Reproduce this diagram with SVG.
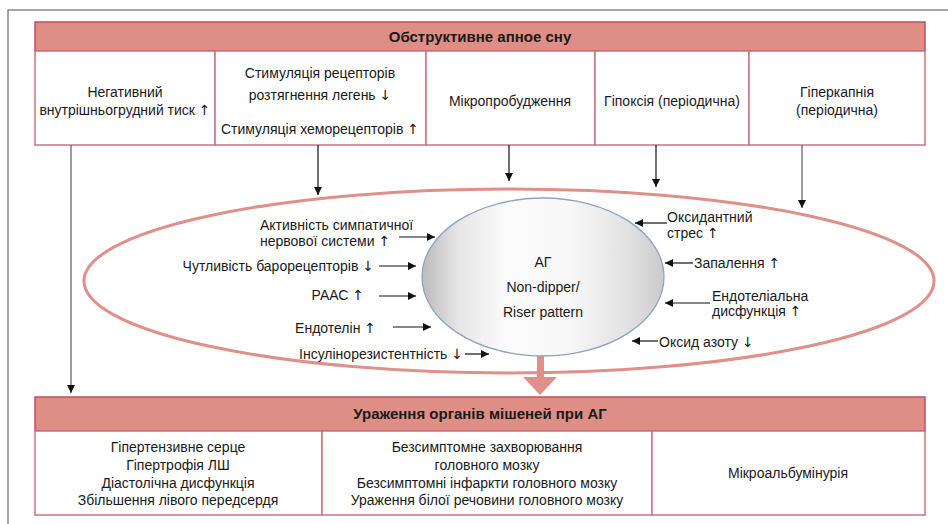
<svg xmlns="http://www.w3.org/2000/svg" width="948" height="524" viewBox="0 0 948 524">
<defs>
<style>
text{font-family:"Liberation Sans","DejaVu Sans",sans-serif;font-size:14px;fill:#1a1a1a;text-anchor:middle}
.b{font-weight:bold;font-size:15px}
.l{text-anchor:start}
.e{text-anchor:end}
.ar{font-family:"DejaVu Sans",sans-serif;font-size:14px}
.hdr{fill:#de8e84;stroke:#c0505a;stroke-width:1.5}
.cell{fill:#fff;stroke:#c9747c;stroke-width:1.5}
.ln{stroke:#111;stroke-width:1.2;fill:none}
.gl{stroke:#666;stroke-width:1.3;fill:none}
</style>
<marker id="ah" viewBox="0 0 10 10" refX="10" refY="5" markerWidth="8" markerHeight="8" markerUnits="userSpaceOnUse" orient="auto">
<path d="M0,0 L10,5 L0,10 z" fill="#111"/>
</marker>
<linearGradient id="eg" x1="0" y1="0" x2="1" y2="0">
<stop offset="0" stop-color="#bababa"/>
<stop offset="0.15" stop-color="#e6e6e6"/>
<stop offset="0.35" stop-color="#fbfbfb"/>
<stop offset="0.6" stop-color="#f8f8f8"/>
<stop offset="0.85" stop-color="#e2e2e2"/>
<stop offset="1" stop-color="#cacaca"/>
</linearGradient>
</defs>
<rect x="8" y="10" width="950" height="530" fill="#fff" stroke="#777" stroke-width="1.3"/>

<g id="top-header">
<rect class="hdr" x="35" y="22" width="890" height="29"/>
<text class="b" x="480" y="42">Обструктивне апное сну</text>
</g>
<g id="top-cells">
<rect class="cell" x="35" y="51" width="180" height="94"/>
<rect class="cell" x="215" y="51" width="211" height="94"/>
<rect class="cell" x="426" y="51" width="169" height="94"/>
<rect class="cell" x="595" y="51" width="154" height="94"/>
<rect class="cell" x="749" y="51" width="176" height="94"/>
</g>
<g id="n1"><text x="125" y="97">Негативний</text><text x="125" y="115">внутрішньогрудний тиск <tspan class="ar">↑</tspan></text></g>
<g id="n2"><text x="320" y="78">Стимуляція рецепторів</text><text x="320" y="100">розтягнення легень <tspan class="ar">↓</tspan></text><text x="320" y="134">Стимуляція хеморецепторів <tspan class="ar">↑</tspan></text></g>
<g id="n3"><text x="510" y="106">Мікропробудження</text></g>
<g id="n4"><text x="672" y="106">Гіпоксія (періодична)</text></g>
<g id="n5"><text x="837" y="97">Гіперкапнія</text><text x="837" y="115">(періодична)</text></g>

<g id="outer-ellipse">
<ellipse cx="509" cy="281" rx="425" ry="92" fill="none" stroke="#e0908a" stroke-width="3"/>
</g>

<g id="connectors">
<line class="gl" x1="71" y1="145" x2="71" y2="393" marker-end="url(#ah)"/>
<line class="ln" x1="318" y1="145" x2="318" y2="195" marker-end="url(#ah)"/>
<line class="ln" x1="509" y1="145" x2="509" y2="181" marker-end="url(#ah)"/>
<line class="ln" x1="656" y1="145" x2="656" y2="187" marker-end="url(#ah)"/>
<line class="gl" x1="802" y1="145" x2="802" y2="208" marker-end="url(#ah)"/>
<line class="ln" x1="399" y1="237" x2="435" y2="237" marker-end="url(#ah)"/>
<line class="ln" x1="379" y1="266" x2="416" y2="266" marker-end="url(#ah)"/>
<line class="ln" x1="379" y1="296" x2="416" y2="296" marker-end="url(#ah)"/>
<line class="ln" x1="393" y1="327" x2="431" y2="327" marker-end="url(#ah)"/>
<line class="ln" x1="465" y1="354" x2="489" y2="354" marker-end="url(#ah)"/>
<line class="ln" x1="667" y1="223" x2="635" y2="223" marker-end="url(#ah)"/>
<line class="ln" x1="693" y1="263" x2="665" y2="263" marker-end="url(#ah)"/>
<line class="ln" x1="710" y1="303" x2="665" y2="303" marker-end="url(#ah)"/>
<line class="ln" x1="658" y1="341" x2="632" y2="341" marker-end="url(#ah)"/>
<rect x="537" y="354" width="7" height="24" fill="#e0908a"/>
<path d="M523,377 L557,377 L540,395 z" fill="#e0908a"/>
</g>

<g id="center">
<ellipse cx="543" cy="277" rx="121" ry="79" fill="url(#eg)" stroke="#8fa4ba" stroke-width="1.3"/>
<text x="543" y="267">АГ</text>
<text x="543" y="292">Non-dipper/</text>
<text x="543" y="317">Riser pattern</text>
</g>

<g id="left-factors">
<text class="l" x="260" y="230">Активність симпатичної</text>
<text class="l" x="260" y="246">нервової системи <tspan class="ar">↑</tspan></text>
<text class="e" x="374" y="271">Чутливість барорецепторів <tspan class="ar">↓</tspan></text>
<text class="e" x="364" y="300">РААС <tspan class="ar">↑</tspan></text>
<text class="e" x="376" y="333">Ендотелін <tspan class="ar">↑</tspan></text>
<text class="e" x="463" y="359">Інсулінорезистентність <tspan class="ar">↓</tspan></text>
</g>
<g id="right-factors">
<text class="l" x="667" y="222">Оксидантний</text>
<text class="l" x="667" y="238">стрес <tspan class="ar">↑</tspan></text>
<text class="l" x="694" y="268">Запалення <tspan class="ar">↑</tspan></text>
<text class="l" x="712" y="301">Ендотеліальна</text>
<text class="l" x="712" y="316">дисфункція <tspan class="ar">↑</tspan></text>
<text class="l" x="659" y="347">Оксид азоту <tspan class="ar">↓</tspan></text>
</g>

<g id="bottom-header">
<rect class="hdr" x="35" y="397" width="890" height="34"/>
<text class="b" x="480" y="419">Ураження органів мішеней при АГ</text>
</g>
<g id="bottom-cells">
<rect class="cell" x="35" y="431" width="287" height="84"/>
<rect class="cell" x="322" y="431" width="330" height="84"/>
<rect class="cell" x="652" y="431" width="273" height="84"/>
</g>
<g id="b1"><text x="178" y="452">Гіпертензивне серце</text><text x="178" y="470">Гіпертрофія ЛШ</text><text x="178" y="488">Діастолічна дисфункція</text><text x="178" y="505">Збільшення лівого передсердя</text></g>
<g id="b2"><text x="487" y="452">Безсимптомне захворювання</text><text x="487" y="470">головного мозку</text><text x="487" y="488">Безсимптомні інфаркти головного мозку</text><text x="487" y="505">Ураження білої речовини головного мозку</text></g>
<g id="b3"><text x="788" y="478">Мікроальбумінурія</text></g>
</svg>
